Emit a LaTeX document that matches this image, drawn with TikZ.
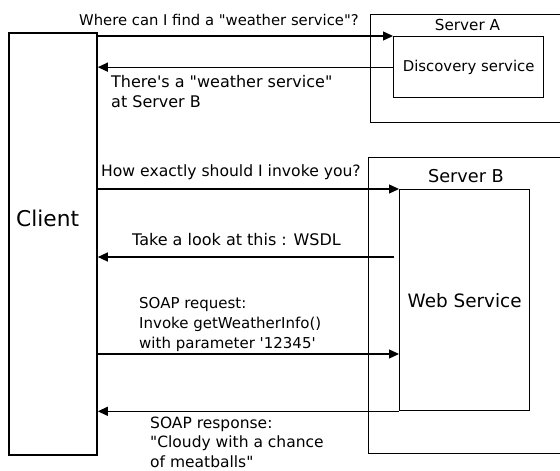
\documentclass[tikz,border=0pt]{standalone}
\usepackage{fontspec}
\newfontfamily\vfont{DejaVu Sans}
\newcommand\fsz[2]{\vfont\fontsize{#1}{#2}\selectfont}
\usetikzlibrary{arrows.meta}
\begin{document}
\begin{tikzpicture}[x=1pt,y=-1pt,
  box/.style={draw, line width=1.3pt, inner sep=0pt, anchor=north west},
  arr/.style={line width=1.3pt, -{Triangle[length=10pt,width=9pt]}},
  lbl/.style={anchor=base west, inner sep=0pt, align=left},
  ttl/.style={anchor=base, inner sep=0pt}]
\useasboundingbox (0,0) rectangle (560,471);
% boxes
\node[box, line width=1.8pt, minimum width=88pt, minimum height=422pt] (client) at (8,32) {};
\node[box, minimum width=200pt, minimum height=108pt] (serverA) at (370,14) {};
\node[box, minimum width=150pt, minimum height=61pt, font=\fsz{14.9}{18}] (disc) at (393,36) {Discovery service};
\node[box, minimum width=200pt, minimum height=296pt] (serverB) at (368,157) {};
\node[box, minimum width=130pt, minimum height=221pt, font=\fsz{18.4}{22}] (ws) at (399,189) {Web Service};
% titles
\node[ttl, font=\fsz{21.7}{26}, anchor=base west] (clientlbl) at (16,226) {Client};
\node[ttl, font=\fsz{15.2}{18}] (serverAlbl) at (467.5,30.5) {Server A};
\node[ttl, font=\fsz{17.7}{20}] (serverBlbl) at (466,182) {Server B};
% connectors
\coordinate (c4) at (394,257);
\coordinate (c5) at (399,354);
\draw[arr] (client.east |- disc.north west) -- (disc.north west);
\draw[arr] (disc.west) -- (client.east |- disc.west);
\draw[arr] (client.east |- ws.north west) -- (ws.north west);
\draw[arr] (c4) -- (client.east |- c4);
\draw[arr] (client.east |- c5) -- (c5);
\draw[arr] (ws.south west) -- (client.east |- ws.south west);
% labels (base anchor = baseline of the last line)
\node[lbl, font=\fsz{14.8}{20}] (t1) at (79,25.5) {Where can I find a "weather service"?};
\node[lbl, font=\fsz{16}{20}] (t2) at (111,107) {There's a "weather service"\\at Server B};
\node[lbl, font=\fsz{15.6}{20}] (t3) at (101,176) {How exactly should I invoke you?};
\node[lbl, font=\fsz{16}{20}] (t4) at (132,245) {Take a look at this : WSDL};
\node[lbl, font=\fsz{15}{20}] (t5) at (139,348) {SOAP request:\\Invoke getWeatherInfo()\\with parameter '12345'};
\node[lbl, font=\fsz{15.5}{19.5}] (t6) at (150,467) {SOAP response:\\"Cloudy with a chance\\of meatballs"};
\end{tikzpicture}
\end{document}
